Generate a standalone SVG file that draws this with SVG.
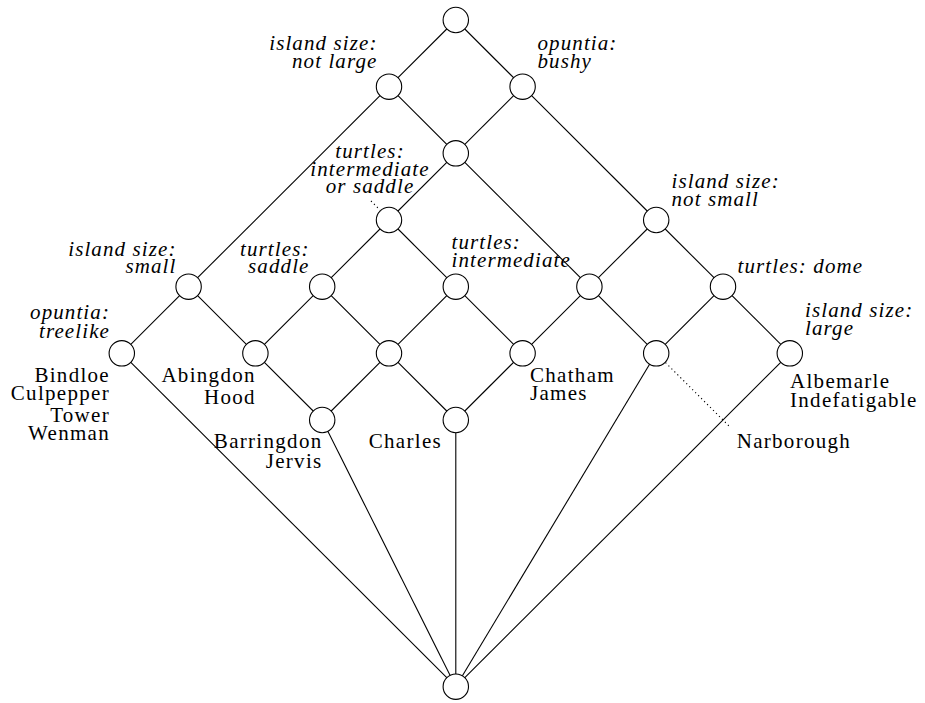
<svg xmlns="http://www.w3.org/2000/svg" width="925" height="703" viewBox="0 0 925 703">
  <style>
    .edge { stroke: #000; stroke-width: 1.1; fill: none; }
    .dot { stroke: #000; stroke-width: 1.1; fill: none; stroke-dasharray: 1.2 3; }
    .node circle { fill: #fff; stroke: #000; stroke-width: 1.1; }
    text { font-family: "Liberation Serif", "Times New Roman", serif; font-size: 21px; fill: #000; letter-spacing: 1.3px; }
    .attr { font-style: italic; letter-spacing: 1.1px; }
    .end { text-anchor: end; }
    .mid { text-anchor: middle; }
  </style>
  <rect width="925" height="703" fill="#fff"/>

  <!-- connectors: drawn first, circles sit on top -->
  <g id="connectors">
    <line class="edge" x1="455.8" y1="20" x2="389" y2="86.7"/>
    <line class="edge" x1="455.8" y1="20" x2="522.6" y2="86.7"/>
    <line class="edge" x1="389" y1="86.7" x2="455.8" y2="153.3"/>
    <line class="edge" x1="389" y1="86.7" x2="188.6" y2="286.7"/>
    <line class="edge" x1="522.6" y1="86.7" x2="455.8" y2="153.3"/>
    <line class="edge" x1="522.6" y1="86.7" x2="656.2" y2="220"/>
    <line class="edge" x1="455.8" y1="153.3" x2="389" y2="220"/>
    <line class="edge" x1="455.8" y1="153.3" x2="589.4" y2="286.7"/>
    <line class="edge" x1="389" y1="220" x2="322.2" y2="286.7"/>
    <line class="edge" x1="389" y1="220" x2="455.8" y2="286.7"/>
    <line class="edge" x1="656.2" y1="220" x2="589.4" y2="286.7"/>
    <line class="edge" x1="656.2" y1="220" x2="723" y2="286.7"/>
    <line class="edge" x1="188.6" y1="286.7" x2="121.8" y2="353.3"/>
    <line class="edge" x1="188.6" y1="286.7" x2="255.4" y2="353.3"/>
    <line class="edge" x1="322.2" y1="286.7" x2="255.4" y2="353.3"/>
    <line class="edge" x1="322.2" y1="286.7" x2="389" y2="353.3"/>
    <line class="edge" x1="455.8" y1="286.7" x2="389" y2="353.3"/>
    <line class="edge" x1="455.8" y1="286.7" x2="522.6" y2="353.3"/>
    <line class="edge" x1="589.4" y1="286.7" x2="522.6" y2="353.3"/>
    <line class="edge" x1="589.4" y1="286.7" x2="656.2" y2="353.3"/>
    <line class="edge" x1="723" y1="286.7" x2="656.2" y2="353.3"/>
    <line class="edge" x1="723" y1="286.7" x2="789.8" y2="353.3"/>
    <line class="edge" x1="255.4" y1="353.3" x2="322.2" y2="420"/>
    <line class="edge" x1="389" y1="353.3" x2="322.2" y2="420"/>
    <line class="edge" x1="389" y1="353.3" x2="455.8" y2="420"/>
    <line class="edge" x1="522.6" y1="353.3" x2="455.8" y2="420"/>
    <line class="edge" x1="455.8" y1="686.7" x2="121.8" y2="353.3"/>
    <line class="edge" x1="455.8" y1="686.7" x2="322.2" y2="420"/>
    <line class="edge" x1="455.8" y1="686.7" x2="455.8" y2="420"/>
    <line class="edge" x1="455.8" y1="686.7" x2="656.2" y2="353.3"/>
    <line class="edge" x1="455.8" y1="686.7" x2="789.8" y2="353.3"/>
    <!-- dotted leaders from labels to nodes -->
    <line class="dot" x1="371" y1="201" x2="380" y2="210"/>
    <line class="dot" x1="665.5" y1="362.6" x2="730" y2="427"/>
  </g>

  <g id="n-top" class="node"><circle cx="455.8" cy="20" r="12.7"/></g>

  <g id="n-not-large" class="node">
    <circle cx="389" cy="86.7" r="12.7"/>
    <text class="attr end" x="377.5" y="50">island size:</text>
    <text class="attr end" x="377.5" y="68.3">not large</text>
  </g>

  <g id="n-bushy" class="node">
    <circle cx="522.6" cy="86.7" r="12.7"/>
    <text class="attr" x="537.5" y="50">opuntia:</text>
    <text class="attr" x="537.5" y="68.3">bushy</text>
  </g>

  <g id="n-mid" class="node"><circle cx="455.8" cy="153.3" r="12.7"/></g>

  <g id="n-int-or-saddle" class="node">
    <circle cx="389" cy="220" r="12.7"/>
    <text class="attr mid" x="370" y="157.5">turtles:</text>
    <text class="attr mid" x="370" y="175.5">intermediate</text>
    <text class="attr mid" x="370" y="193.2">or saddle</text>
  </g>

  <g id="n-not-small" class="node">
    <circle cx="656.2" cy="220" r="12.7"/>
    <text class="attr" x="671.5" y="188.3">island size:</text>
    <text class="attr" x="671.5" y="206">not small</text>
  </g>

  <g id="n-small" class="node">
    <circle cx="188.6" cy="286.7" r="12.7"/>
    <text class="attr end" x="176.5" y="256">island size:</text>
    <text class="attr end" x="176.5" y="273.3">small</text>
  </g>

  <g id="n-saddle" class="node">
    <circle cx="322.2" cy="286.7" r="12.7"/>
    <text class="attr end" x="309.5" y="256">turtles:</text>
    <text class="attr end" x="309.5" y="273.3">saddle</text>
  </g>

  <g id="n-intermediate" class="node">
    <circle cx="455.8" cy="286.7" r="12.7"/>
    <text class="attr" x="451.5" y="249">turtles:</text>
    <text class="attr" x="451.5" y="267">intermediate</text>
  </g>

  <g id="n-mid-right" class="node"><circle cx="589.4" cy="286.7" r="12.7"/></g>

  <g id="n-dome" class="node">
    <circle cx="723" cy="286.7" r="12.7"/>
    <text class="attr" x="737.5" y="273.3">turtles: dome</text>
  </g>

  <g id="n-treelike" class="node">
    <circle cx="121.8" cy="353.3" r="12.7"/>
    <text class="attr end" x="110" y="319">opuntia:</text>
    <text class="attr end" x="110" y="338.3">treelike</text>
    <text class="end" x="110" y="381.7">Bindloe</text>
    <text class="end" x="110" y="399.5">Culpepper</text>
    <text class="end" x="110" y="421.5">Tower</text>
    <text class="end" x="110" y="440">Wenman</text>
  </g>

  <g id="n-abingdon" class="node">
    <circle cx="255.4" cy="353.3" r="12.7"/>
    <text class="end" x="255.8" y="381.7">Abingdon</text>
    <text class="end" x="255.8" y="404.3">Hood</text>
  </g>

  <g id="n-center" class="node"><circle cx="389" cy="353.3" r="12.7"/></g>

  <g id="n-chatham" class="node">
    <circle cx="522.6" cy="353.3" r="12.7"/>
    <text x="530" y="381.7">Chatham</text>
    <text x="530" y="400">James</text>
  </g>

  <g id="n-narborough" class="node">
    <circle cx="656.2" cy="353.3" r="12.7"/>
    <text x="736.7" y="448.3">Narborough</text>
  </g>

  <g id="n-large" class="node">
    <circle cx="789.8" cy="353.3" r="12.7"/>
    <text class="attr" x="805" y="316.7">island size:</text>
    <text class="attr" x="805" y="335">large</text>
    <text x="790" y="388.3">Albemarle</text>
    <text x="790" y="406.7">Indefatigable</text>
  </g>

  <g id="n-barrington" class="node">
    <circle cx="322.2" cy="420" r="12.7"/>
    <text class="end" x="322.5" y="448.3">Barringdon</text>
    <text class="end" x="322.5" y="468">Jervis</text>
  </g>

  <g id="n-charles" class="node">
    <circle cx="455.8" cy="420" r="12.7"/>
    <text class="end" x="442" y="448.3">Charles</text>
  </g>

  <g id="n-bottom" class="node"><circle cx="455.8" cy="686.7" r="12.7"/></g>
</svg>
